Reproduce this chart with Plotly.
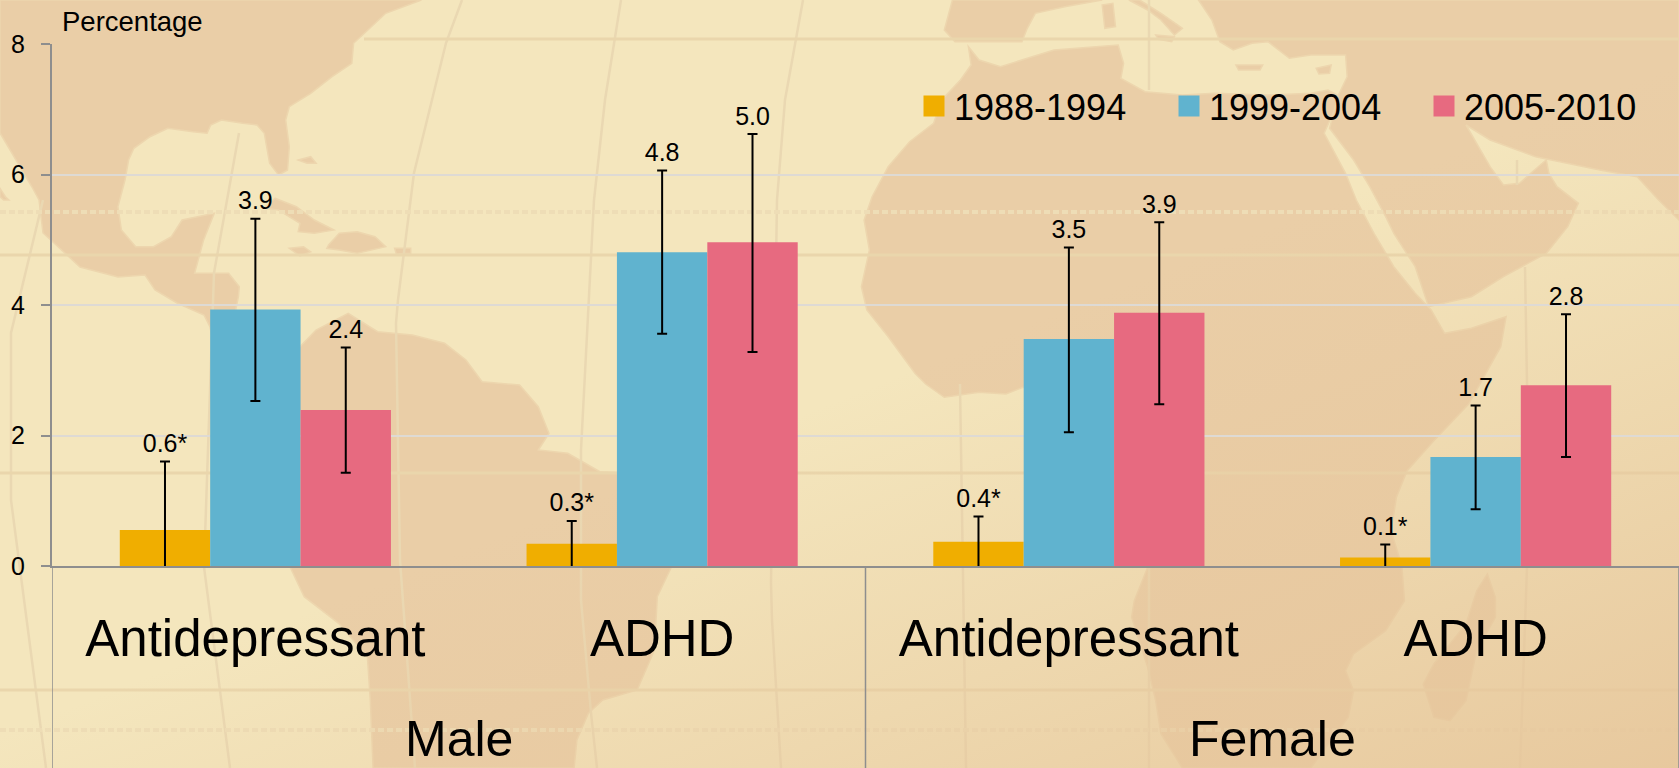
import base64
import plotly.graph_objects as go

# ---------- data ----------
categories = ["Antidepressant", "ADHD", "Antidepressant", "ADHD"]
groups = ["Male", "Female"]
periods = ["1988-1994", "1999-2004", "2005-2010"]
colors = ["#F0AE00", "#60B3CF", "#E76A80"]
v_1988 = [0.55, 0.34, 0.37, 0.13]
v_1999 = [3.93, 4.81, 3.48, 1.67]
v_2005 = [2.39, 4.96, 3.88, 2.77]
hi_1988 = [1.05, 0.35, 0.39, 0.20]
hi_1999 = [1.39, 1.25, 1.40, 0.79]
hi_2005 = [0.96, 1.66, 1.39, 1.09]
lo_1988 = [1.05, 0.40, 0.42, 0.20]
lo_1999 = [1.40, 1.25, 1.43, 0.80]
lo_2005 = [0.96, 1.68, 1.40, 1.10]
labels_1988 = ["0.6*", "0.3*", "0.4*", "0.1*"]
labels_1999 = ["3.9", "4.8", "3.5", "1.7"]
labels_2005 = ["2.4", "5.0", "3.9", "2.8"]

values = [v_1988, v_1999, v_2005]
err_hi = [hi_1988, hi_1999, hi_2005]
err_lo = [lo_1988, lo_1999, lo_2005]
texts = [labels_1988, labels_1999, labels_2005]
xs = list(range(len(categories)))

# ---------- layout geometry ----------
W, H = 1679, 768
ML, MR, MT, MB = 52, 0, 44, 202
PW, PH = W - ML - MR, H - MT - MB
FONT = "Liberation Sans"
INK = "#000000"


# ---------- decorative backdrop (world map) ----------
def Z(ox, oy, fx, fy, pts):
    return [(ox + x / fx, oy + y / fy) for x, y in pts]


z1 = lambda p: Z(0, 0, 2.8, 3, p)
z2 = lambda p: Z(0, 500, 1.742, 3, p)
z4 = lambda p: Z(840, 0, 1.869, 3, p)
z5 = lambda p: Z(840, 384, 1.869, 3, p)
z6 = lambda p: Z(0, 200, 1.867, 3, p)

america = (
    z1([(1180, 0), (1080, 40), (1030, 90), (990, 130), (985, 190), (930, 230), (870, 280), (810, 320),
        (800, 360), (810, 440), (805, 510), (780, 525), (755, 490), (740, 400), (720, 375), (680, 370),
        (620, 360), (590, 375), (580, 400), (540, 395), (470, 385), (420, 410), (375, 445), (360, 480),
        (350, 540), (330, 620), (340, 690), (380, 740), (430, 740), (480, 710), (510, 660), (600, 640),
        (570, 720), (545, 820), (640, 820), (670, 860)])
    + z6([(445, 290), (440, 330), (560, 440), (590, 390), (650, 340), (705, 395), (770, 405), (830, 430),
          (870, 480), (900, 545), (970, 555), (1005, 620), (1025, 700), (1005, 750), (1060, 760),
          (1120, 815), (1180, 820), (1250, 1000)])
    + z2([(1170, 200), (1145, 290), (1140, 450), (1110, 570), (1050, 600), (1025, 640), (1005, 720),
          (1000, 804), (650, 804), (645, 600), (640, 470), (590, 370), (530, 290), (505, 200)])
    + [(225, 400), (210, 327), (204, 315), (177, 303), (155, 290), (145, 275), (118, 277), (80, 267), (54, 243),
       (43, 233), (39, 200), (32, 187), (0, 133), (0, 0)]
)
baja = z1([(0, 565), (15, 590), (25, 600), (10, 600), (0, 590)])
cuba = z1([(770, 595), (830, 620), (880, 660), (935, 690), (880, 700), (835, 695), (840, 670), (780, 630), (740, 625)])
hispaniola = z1([(950, 700), (1000, 695), (1050, 710), (1080, 740), (1000, 760), (950, 750), (915, 745), (920, 735)])
jamaica = z1([(810, 745), (850, 740), (870, 755), (840, 768)])
puerto = z1([(1105, 745), (1150, 745), (1150, 760), (1110, 762)])
florida_keys = z1([(835, 480), (870, 470), (885, 490), (860, 490)])

africa = (
    z4([(240, 140), (245, 195), (225, 240), (190, 300), (175, 370), (130, 425), (90, 500), (60, 590), (45, 660),
        (55, 750), (40, 860), (50, 930), (90, 1010), (140, 1120), (160, 1152)])
    + z5([(195, 40), (260, 25), (310, 30), (342, 10), (450, 30), (520, 250), (575, 550), (550, 650), (545, 700),
          (575, 850), (590, 950), (600, 1050), (640, 1152), (880, 1152), (950, 1000), (960, 920), (945, 860),
          (960, 810), (1020, 740), (1055, 650), (1050, 545), (1030, 440), (1040, 340), (1060, 260), (1110, 170),
          (1175, 60)])
    + z4([(1235, 1040), (1245, 950), (1180, 985), (1130, 1000), (1105, 930), (1075, 880), (1035, 800), (998, 700),
          (965, 600), (945, 520), (905, 400), (935, 290), (912, 270), (880, 280), (800, 285), (700, 280), (640, 285),
          (570, 275), (525, 235), (530, 190), (520, 135), (400, 150), (350, 175), (300, 200), (260, 180)])
)
asia = z4([(670, 0), (695, 60), (710, 125), (735, 150), (770, 130), (800, 125), (840, 175), (880, 165), (945, 165),
           (948, 230), (930, 290), (915, 385), (960, 480), (990, 560), (1020, 650), (1035, 700), (1075, 800),
           (1100, 920), (1180, 890), (1240, 830), (1320, 760), (1360, 680), (1380, 610), (1340, 560), (1325, 520),
           (1320, 480), (1305, 500), (1270, 550), (1240, 555), (1215, 500), (1170, 375), (1215, 420), (1300, 470),
           (1420, 510), (1490, 530), (1530, 600), (1568, 660), (1568, 0)])
iberia = z4([(210, 0), (195, 90), (215, 125), (340, 125), (350, 85), (365, 40), (420, 20), (490, 0)])
italy = z4([(560, 0), (600, 40), (640, 85), (625, 105), (600, 60), (575, 30), (540, 0)])
sardinia = z4([(490, 15), (510, 10), (515, 80), (495, 85)])
sicily = z4([(590, 105), (625, 110), (620, 125), (595, 118)])
crete = z4([(740, 195), (790, 195), (785, 210), (745, 210)])
cyprus = z4([(890, 205), (918, 195), (915, 220), (895, 222)])
madagascar = z5([(1210, 570), (1225, 640), (1225, 700), (1190, 800), (1170, 950), (1140, 1010), (1110, 1000),
                 (1090, 900), (1110, 840), (1170, 720), (1190, 620)])
lands = [america, baja, cuba, hispaniola, jamaica, puerto, florida_keys, africa, asia, iberia, italy, sardinia,
         sicily, crete, cyprus, madagascar]

lat_solid = [(364, 39), (0, 255), (0, 473), (0, 690)]
lat_dash = [212, 730]
meridians = [
    [(462, 0), (446, 43), (414, 173), (398, 300), (396, 323), (400, 560), (415, 768)],
    [(239, 133), (214, 273), (204, 567), (230, 768)],
    [(43, 200), (11, 333), (11, 500), (46, 768)],
    [(621, 0), (605, 100), (594, 200), (581, 450), (581, 600), (591, 713), (597, 768)],
    [(803, 0), (785, 100), (777, 200), (771, 583), (772, 620), (781, 768)],
    [(1149, 0), (1149, 90)],
    [(960, 384), (966, 768)],
    [(1149, 567), (1149, 768)],
    [(1525, 267), (1527, 384), (1527, 567), (1520, 768)],
    [(1517, 160), (1517, 185)],
]


def pts(p):
    return " ".join(f"{x:.1f},{y:.1f}" for x, y in p)


svg = [f'<svg xmlns="http://www.w3.org/2000/svg" width="{W}" height="{H}" viewBox="0 0 {W} {H}">',
       '<defs><linearGradient id="g" x1="0.3" y1="0.2" x2="1" y2="1">'
       '<stop offset="0.35" stop-color="#E6C59A" stop-opacity="0"/>'
       '<stop offset="1" stop-color="#E6C59A" stop-opacity="0.9"/></linearGradient></defs>',
       f'<rect width="{W}" height="{H}" fill="#F4E6BD"/>']
for p in lands:
    svg.append(f'<polygon points="{pts(p)}" fill="#EACEA7" stroke="#EDD6AE" stroke-width="1.5"/>')
for m in meridians:
    svg.append(f'<polyline points="{pts(m)}" fill="none" stroke="#EAD8B2" stroke-width="2.5"/>')
for x0, y0 in lat_solid:
    svg.append(f'<line x1="{x0}" y1="{y0}" x2="{W}" y2="{y0}" stroke="#EAD6AC" stroke-width="3"/>')
for y0 in lat_dash:
    svg.append(f'<line x1="0" y1="{y0}" x2="{W}" y2="{y0}" stroke="#EEDDB6" stroke-width="4" stroke-dasharray="6 3"/>')
svg.append(f'<rect width="{W}" height="{H}" fill="url(#g)"/></svg>')
bg_uri = "data:image/svg+xml;base64," + base64.b64encode("".join(svg).encode()).decode()

# ---------- figure ----------
fig = go.Figure()
for j, period in enumerate(periods):
    fig.add_trace(go.Bar(
        x=xs, y=values[j], name=period, marker=dict(color=colors[j], line=dict(width=0)),
        showlegend=False, legendgroup=period,
        error_y=dict(type="data", symmetric=False, array=err_hi[j], arrayminus=err_lo[j],
                     color="#000000", thickness=2, width=5),
    ))

BAR_W = (1 - 1 / 3) / 3
LABEL_GAP = 0.05
for j, period in enumerate(periods):
    fig.add_trace(go.Scatter(
        x=[i + (j - 1) * BAR_W for i in xs],
        y=[v + e + LABEL_GAP for v, e in zip(values[j], err_hi[j])],
        mode="text", text=texts[j], textposition="top center",
        textfont=dict(family=FONT, size=25, color=INK),
        showlegend=False, hoverinfo="skip", cliponaxis=False,
    ))

for j, period in enumerate(periods):
    fig.add_trace(go.Scatter(
        x=[None], y=[None], mode="markers", name=period, legendgroup=period,
        marker=dict(symbol="square", size=16, color=colors[j], line=dict(width=5, color=colors[j])),
    ))

fig.update_layout(
    width=W, height=H,
    margin=dict(l=ML, r=MR, t=MT, b=MB, pad=0, autoexpand=False),
    paper_bgcolor="#F4E6BD", plot_bgcolor="rgba(0,0,0,0)",
    barmode="group", bargap=1 / 3, bargroupgap=0,
    font=dict(family=FONT, color=INK),
    showlegend=True,
    legend=dict(orientation="h", x=(914 - ML) / PW, xanchor="left", y=1 - (106 - MT) / PH, yanchor="middle",
                bgcolor="rgba(0,0,0,0)", font=dict(family=FONT, size=36, color=INK),
                entrywidth=210, entrywidthmode="pixels", traceorder="normal", itemclick=False),
    xaxis=dict(range=[-0.5, 3.5], tickmode="array", tickvals=xs, ticktext=categories,
               tickfont=dict(family=FONT, size=51, color=INK), ticks="", ticklabelstandoff=27,
               showgrid=False, showline=True, linecolor="#8E8E8E", linewidth=2, zeroline=False, fixedrange=True),
    yaxis=dict(range=[0, 8], tickmode="array", tickvals=[0, 2, 4, 6, 8],
               tickfont=dict(family=FONT, size=25, color=INK), ticks="outside", ticklen=9, tickcolor="#8E8E8E",
               tickwidth=2, ticklabelstandoff=11, showgrid=True, gridcolor="#DEDAD4", gridwidth=2,
               showline=True, linecolor="#8E8E8E", linewidth=2, zeroline=False, fixedrange=True),
    images=[dict(source=bg_uri, xref="paper", yref="paper", x=-ML / PW, y=1 + MT / PH,
                 sizex=W / PW, sizey=H / PH, xanchor="left", yanchor="top", sizing="stretch", layer="below")],
    shapes=[dict(type="line", xref="x", yref="paper", x0=d, x1=d, y0=0, y1=-MB / PH,
                 line=dict(color="#8E8E8E", width=1.5)) for d in (-0.5, 1.5, 3.5)],
    annotations=[
        dict(text=groups[0], xref="x", yref="paper", x=0.5, y=-(739 - 566) / PH, showarrow=False,
             font=dict(family=FONT, size=50, color=INK), xanchor="center", yanchor="middle"),
        dict(text=groups[1], xref="x", yref="paper", x=2.5, y=-(739 - 566) / PH, showarrow=False,
             font=dict(family=FONT, size=50, color=INK), xanchor="center", yanchor="middle"),
        dict(text="Percentage", xref="paper", yref="paper", x=(60 - ML) / PW, y=1 + (44 - 21) / PH, showarrow=False,
             font=dict(family=FONT, size=27.5, color=INK), xanchor="left", yanchor="middle"),
    ],
)

fig.write_html("out.html", config={"displayModeBar": False},
               post_script="document.body.style.margin='0';document.documentElement.style.overflow='hidden';")
